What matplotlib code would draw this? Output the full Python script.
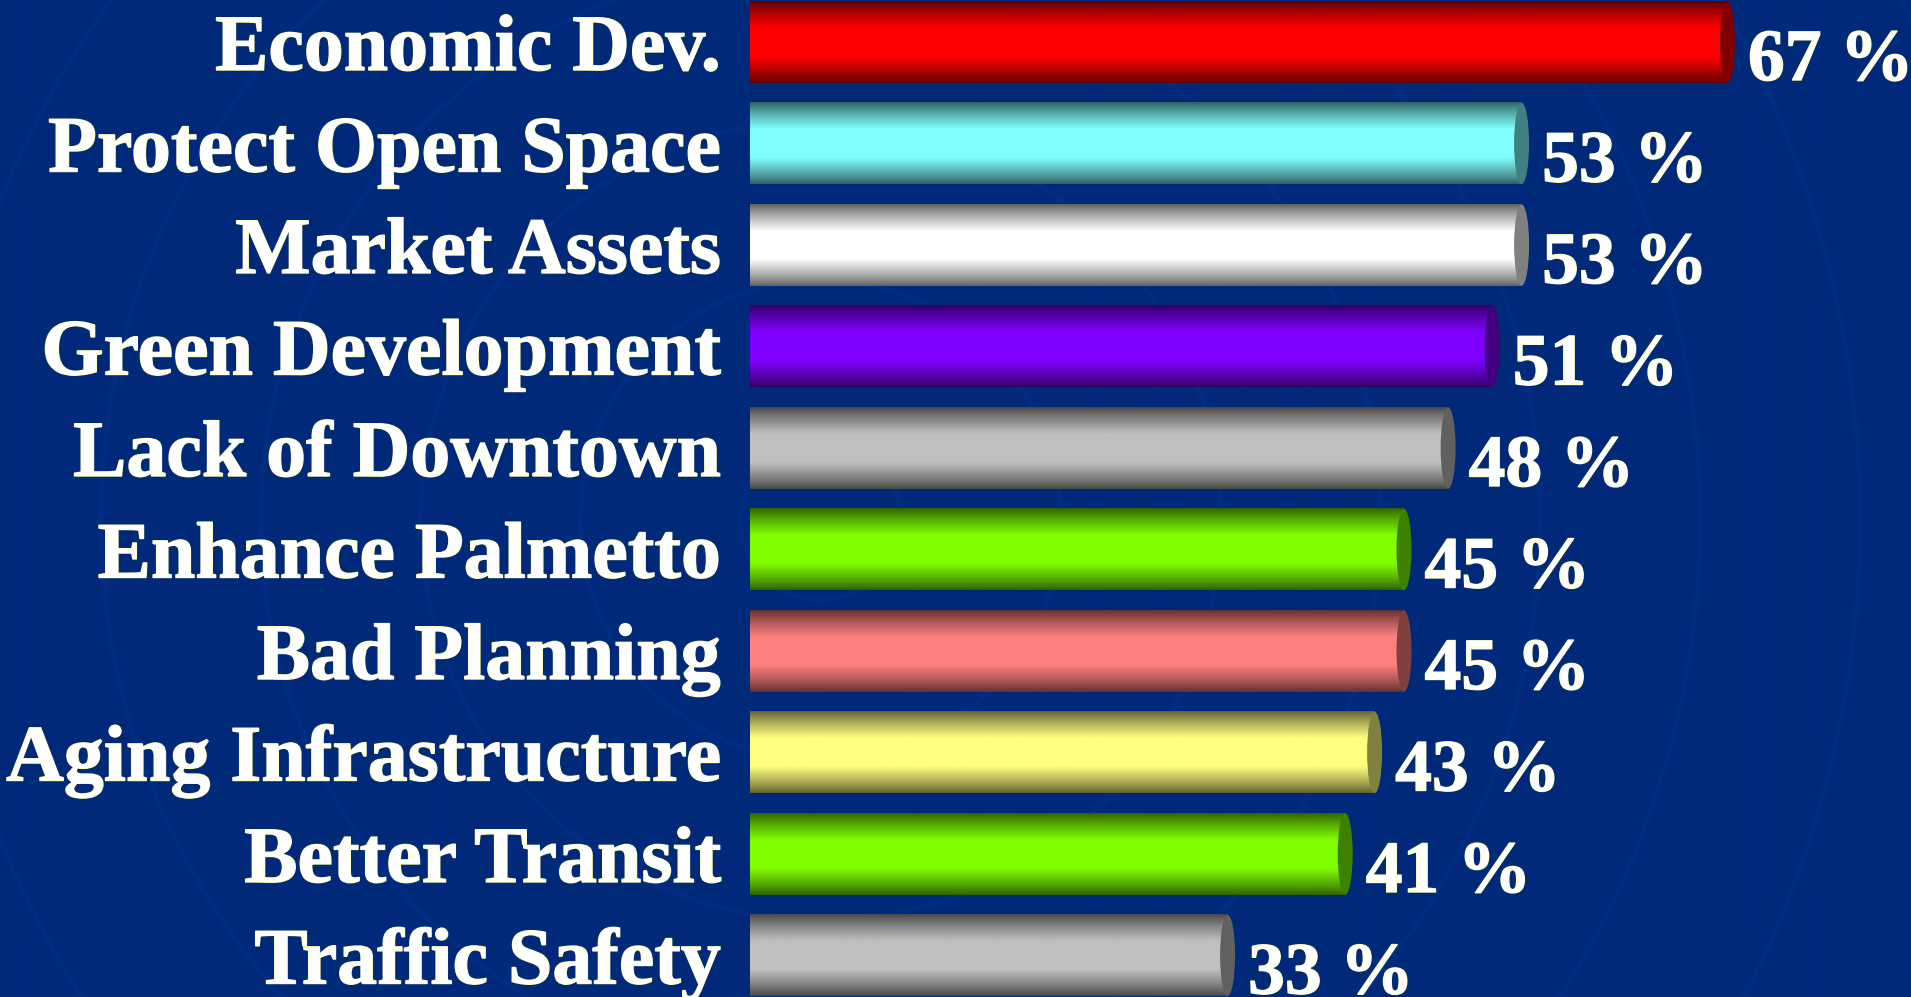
import numpy as np
import matplotlib
matplotlib.use("Agg")
import matplotlib.pyplot as plt
from matplotlib.patches import Ellipse
from matplotlib import transforms
from matplotlib import patheffects as pe
from matplotlib.colors import to_rgb

# ---- data ----
categories = ["Economic Dev.", "Protect Open Space", "Market Assets", "Green Development",
              "Lack of Downtown", "Enhance Palmetto", "Bad Planning", "Aging Infrastructure",
              "Better Transit", "Traffic Safety"]
values = [67, 53, 53, 51, 48, 45, 45, 43, 41, 33]
bar_colors = ["#FF0000", "#80FFFF", "#FFFFFF", "#8000FF", "#C0C0C0",
              "#80FF00", "#FF8080", "#FFFF80", "#80FF00", "#C0C0C0"]
cap_colors = ["#800000", "#408080", "#808080", "#400080", "#606060",
              "#408000", "#804040", "#808040", "#408000", "#606060"]

W, H, DPI = 1911, 997, 100
BG = "#00297A"
PX_PER_UNIT = 14.7
LEFT_PX = 750

fig = plt.figure(figsize=(W / DPI, H / DPI), dpi=DPI)
fig.patch.set_facecolor(BG)

# subtle background swirl texture
bgax = fig.add_axes([0, 0, 1, 1], zorder=-5)
bgax.axis("off")
yy, xx = np.mgrid[0:H:2, 0:W:2]
r = np.hypot(xx - 820, yy - 520)
rings = np.exp(-((r % 160) - 80) ** 2 / (2 * 2.0 ** 2))
base = np.array(to_rgb(BG))
tex = base[None, None, :] + 0.035 * rings[..., None] * np.array([0.3, 0.5, 1.0])[None, None, :]
bgax.imshow(np.clip(tex, 0, 1), extent=[0, 1, 0, 1], aspect="auto", interpolation="bilinear")
bgax.set_xlim(0, 1)
bgax.set_ylim(0, 1)

ax = fig.add_axes([LEFT_PX / W, 0, 1 - LEFT_PX / W, 1])
ax.set_facecolor("none")
ax.axis("off")

ypos = np.arange(len(categories))
bar_h = 0.8
bars = ax.barh(ypos, values, height=bar_h, color="none", linewidth=0)

cap_w = 15 / PX_PER_UNIT
N = 121
t = np.linspace(0, 1, N)
f = np.clip((0.5 - np.abs(t - 0.5)) / 0.33, 0, 1) ** 0.85

for bar, bc, cc in zip(bars, bar_colors, cap_colors):
    x0, y0 = bar.get_x(), bar.get_y()
    w, h = bar.get_width(), bar.get_height()
    body_end = x0 + w - cap_w / 2
    bright = np.array(to_rgb(bc))
    dark = np.array(to_rgb(cc)) * 0.75
    cols = dark[None, :] + (bright - dark)[None, :] * f[:, None]
    img = cols[:, None, :]
    ax.imshow(img, extent=[x0, body_end, y0 + h, y0], aspect="auto",
              interpolation="bilinear", zorder=2)
    ax.add_patch(Ellipse((body_end, y0 + h / 2), cap_w, h, facecolor=cc,
                         edgecolor="none", zorder=3))

ax.set_xlim(0, (W - LEFT_PX) / PX_PER_UNIT)
top = -42 / 101.5
bottom = (H - 42) / 101.5
ax.set_ylim(bottom, top)

stroke = [pe.withStroke(linewidth=1.0, foreground="#FFFFB0")]

lab_tr = transforms.offset_copy(
    transforms.blended_transform_factory(ax.transAxes, ax.transData),
    fig=fig, x=-29, y=-28, units="dots")
for i, cat in enumerate(categories):
    ax.text(0, i, cat, transform=lab_tr, ha="right", va="baseline",
            fontsize=57.5, fontweight="bold", family="Liberation Serif",
            color="white", path_effects=stroke, zorder=5)

val_tr = transforms.offset_copy(ax.transData, fig=fig, x=13, y=-38, units="dots")
for i, v in enumerate(values):
    ax.text(v, i, f"{v} %", transform=val_tr, ha="left", va="baseline",
            fontsize=53, fontweight="bold", family="Liberation Serif",
            color="white", path_effects=stroke, zorder=5)

fig.savefig("out.png", dpi=DPI, facecolor=fig.get_facecolor())
